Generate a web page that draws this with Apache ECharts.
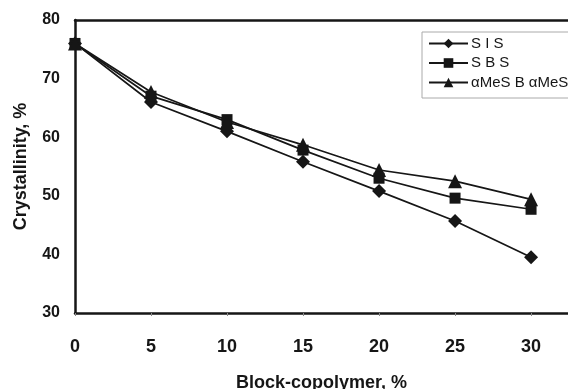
<!DOCTYPE html>
<html>
<head>
<meta charset="utf-8">
<script src="https://cdn.jsdelivr.net/npm/echarts@6/dist/echarts.min.js"></script>
<style>
html,body{margin:0;padding:0;background:#fff;}
#c{width:568px;height:389px;}
</style>
</head>
<body>
<div id="c"></div>
<script>
const xValues = [0, 5, 10, 15, 20, 25, 30];
const sisValues = [76, 66, 61, 55.8, 50.8, 45.7, 39.5];
const sbsValues = [76, 67, 63, 57.8, 53, 49.6, 47.7];
const ameValues = [76, 67.7, 62.6, 58.7, 54.4, 52.5, 49.4];
const seriesNames = ['S I S', 'S B S', '\u03B1MeS B \u03B1MeS'];
const xTicks = [0, 5, 10, 15, 20, 25, 30];
const yTicks = [30, 40, 50, 60, 70, 80];

const pairs = v => xValues.map((x, i) => [x, v[i]]);
const ink = '#161616';
const font = 'Liberation Sans, Arial, sans-serif';

const chart = echarts.init(document.getElementById('c'), null, {renderer: 'canvas'});
function mk(name, data, symbol, size) {
  return {
    name: name, type: 'line', data: pairs(data),
    symbol: symbol, symbolSize: size,
    lineStyle: {color: ink, width: 1.7},
    itemStyle: {color: ink},
    z: 3
  };
}
chart.setOption({
  animation: false,
  backgroundColor: '#fff',
  grid: {left: 75, right: 0, top: 20, bottom: 76, containLabel: false, outerBoundsMode: 'none'},
  legend: {
    orient: 'vertical',
    left: 422, top: 32,
    padding: [4, 14, 8, 6],
    itemWidth: 39, itemHeight: 12, itemGap: 4.5,
    borderColor: '#aaa', borderWidth: 1,
    backgroundColor: '#fff',
    textStyle: {fontFamily: font, fontSize: 15, color: ink, lineHeight: 15, padding: [0, 0, 0, -2]},
    data: seriesNames
  },
  xAxis: [{
    type: 'value', min: 0, max: 32.43, interval: 5,
    axisLine: {show: true, onZero: false, lineStyle: {color: ink, width: 2.5}},
    axisTick: {show: true, length: 3, lineStyle: {color: '#888', width: 1}},
    splitLine: {show: false},
    axisLabel: {
      margin: 25, fontFamily: font, fontSize: 18, fontWeight: 'bold', color: ink,
      formatter: v => xTicks.includes(v) ? String(v) : '', showMaxLabel: false
    },
    name: 'Block-copolymer, %', nameLocation: 'middle', nameGap: 61,
    nameTextStyle: {fontFamily: font, fontSize: 18, fontWeight: 'bold', color: ink}
  }, {
    type: 'value', position: 'top', min: 0, max: 32.43,
    axisLine: {show: true, onZero: false, lineStyle: {color: ink, width: 2.5}},
    axisTick: {show: false}, axisLabel: {show: false}, splitLine: {show: false}
  }],
  yAxis: {
    type: 'value', min: 30, max: 80, interval: 10,
    axisLine: {show: true, onZero: false, lineStyle: {color: ink, width: 2.5}},
    axisTick: {show: false},
    splitLine: {show: false},
    axisLabel: {
      margin: 15, fontFamily: font, fontSize: 16, fontWeight: 'bold', color: ink,
      formatter: v => yTicks.includes(v) ? String(v) : ''
    },
    name: 'Crystallinity, %', nameLocation: 'middle', nameGap: 45, nameRotate: 90,
    nameTextStyle: {fontFamily: font, fontSize: 18, fontWeight: 'bold', color: ink}
  },
  series: [
    mk(seriesNames[0], sisValues, 'diamond', 14),
    mk(seriesNames[1], sbsValues, 'rect', 11),
    mk(seriesNames[2], ameValues, 'triangle', 14)
  ]
});
</script>
</body>
</html>
